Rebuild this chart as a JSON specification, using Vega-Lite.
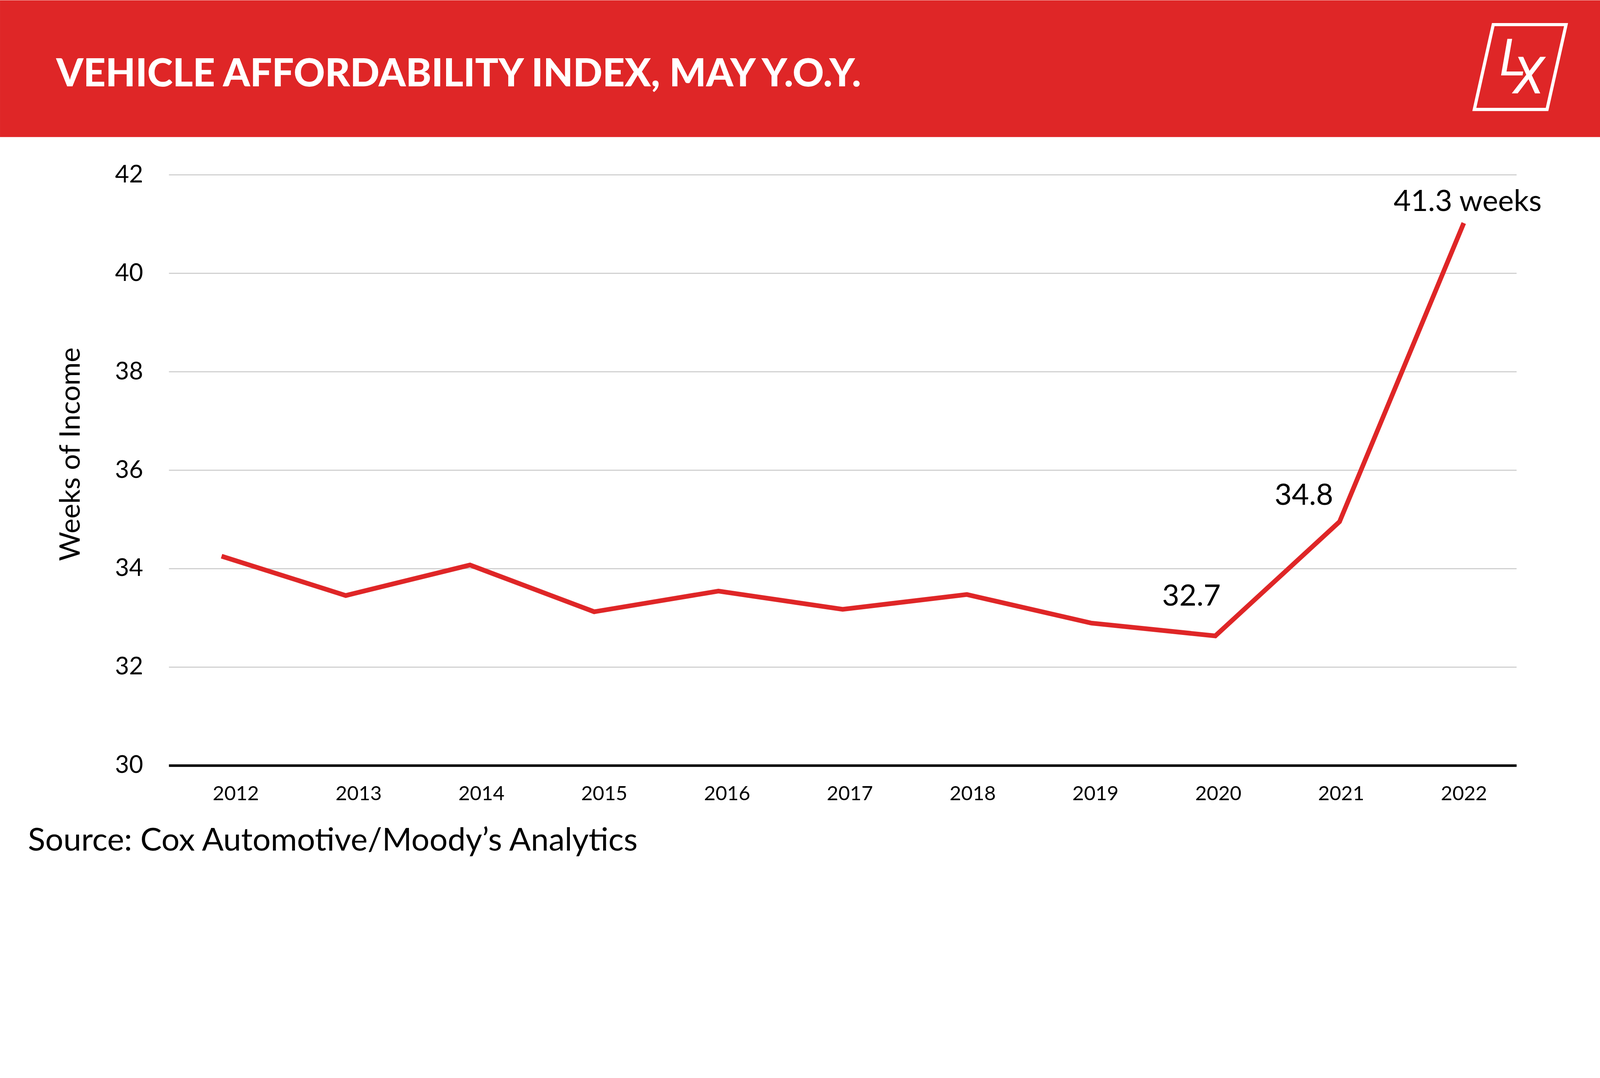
{
  "$schema": "https://vega.github.io/schema/vega-lite/v6.json",
  "background": "#ffffff",
  "autosize": {"type": "fit", "contains": "padding"},
  "padding": 0,
  "width": 4098,
  "height": 2261,
  "config": {"view": {"stroke": null}, "font": "Lato"},
  "data": {
    "values": [
      {"year": 2012, "value": 34.25, "label": ""},
      {"year": 2013, "value": 33.45, "label": ""},
      {"year": 2014, "value": 34.07, "label": ""},
      {"year": 2015, "value": 33.12, "label": ""},
      {"year": 2016, "value": 33.54, "label": ""},
      {"year": 2017, "value": 33.17, "label": ""},
      {"year": 2018, "value": 33.47, "label": ""},
      {"year": 2019, "value": 32.89, "label": ""},
      {"year": 2020, "value": 32.63, "label": "32.7"},
      {"year": 2021, "value": 34.95, "label": "34.8"},
      {"year": 2022, "value": 41.02, "label": "41.3 weeks"}
    ]
  },
  "layer": [
    {
      "data": {"values": [{}]},
      "mark": {"type": "point", "shape": "M -16.666 -9.19 L 16.666 -9.19 L 16.666 -6.343 L -16.666 -6.343 Z", "size": 60460, "filled": true, "color": "#df2627", "fill": "#df2627", "strokeWidth": 0, "opacity": 1},
      "encoding": {}
    },
    {
      "data": {"values": [{}]},
      "mark": {"type": "point", "shape": "M 14.427 -8.683 L 15.943 -8.683 L 15.547 -6.917 L 14.033 -6.917 Z", "size": 60460, "filled": false, "color": "#ffffff", "stroke": "#ffffff", "strokeWidth": 8.2, "opacity": 1, "strokeJoin": "miter"},
      "encoding": {}
    },
    {
      "data": {"values": [{}]},
      "mark": {"type": "text", "text": "VEHICLE AFFORDABILITY INDEX, MAY Y.O.Y.", "font": "Lato", "fontWeight": 900, "fontSize": 99, "color": "#ffffff", "align": "left", "baseline": "alphabetic", "dx": -1905, "dy": -910},
      "encoding": {}
    },
    {
      "data": {"values": [{}]},
      "mark": {"type": "text", "text": "L", "font": "Roboto", "fontStyle": "italic", "fontSize": 131, "color": "#ffffff", "align": "left", "baseline": "alphabetic", "dx": 1790, "dy": -938},
      "encoding": {}
    },
    {
      "data": {"values": [{}]},
      "mark": {"type": "text", "text": "X", "font": "Roboto", "fontStyle": "italic", "fontSize": 131, "color": "#ffffff", "align": "left", "baseline": "alphabetic", "dx": 1824, "dy": -892},
      "encoding": {}
    },
    {
      "mark": {"type": "point", "opacity": 0},
      "encoding": {
        "y": {
          "field": "value",
          "type": "quantitative",
          "scale": {"domain": [27.5988, 45.5531], "nice": false, "zero": false},
          "axis": {
            "orient": "right",
            "offset": -3666,
            "values": [30, 32, 34, 36, 38, 40, 42],
            "ticks": true,
            "tickSize": 3450,
            "tickColor": {"condition": {"test": "datum.value === 30", "value": "#000000"}, "value": "#c9c9c9"},
            "tickWidth": {"condition": {"test": "datum.value === 30", "value": 6.5}, "value": 2.5},
            "tickCap": "butt",
            "labels": false,
            "domain": false,
            "grid": false,
            "title": null,
            "zindex": 0
          }
        }
      }
    },
    {
      "mark": {"type": "point", "opacity": 0},
      "encoding": {
        "y": {
          "field": "value",
          "type": "quantitative",
          "scale": {"domain": [27.5988, 45.5531], "nice": false, "zero": false},
          "axis": {
            "orient": "left",
            "offset": -432,
            "values": [30, 32, 34, 36, 38, 40, 42],
            "ticks": false,
            "tickSize": 0,
            "domain": false,
            "grid": false,
            "labelFont": "Lato",
            "labelFontSize": 62,
            "labelColor": "#000000",
            "labelPadding": 66,
            "title": "Weeks of Income",
            "titleX": -229,
            "titleY": 1162,
            "titleAngle": 270,
            "titleAlign": "center",
            "titleBaseline": "alphabetic",
            "titleFont": "Lato",
            "titleFontSize": 72,
            "titleFontWeight": "normal",
            "titleColor": "#000000"
          }
        }
      }
    },
    {
      "mark": {"type": "point", "opacity": 0},
      "encoding": {
        "x": {
          "field": "year",
          "type": "quantitative",
          "scale": {"domain": [2010.0813, 2023.1157], "nice": false, "zero": false},
          "axis": {
            "orient": "bottom",
            "offset": -305,
            "values": [2012, 2013, 2014, 2015, 2016, 2017, 2018, 2019, 2020, 2021, 2022],
            "format": "d",
            "grid": false,
            "ticks": false,
            "tickSize": 0,
            "domain": false,
            "labelFont": "Lato",
            "labelFontSize": 51,
            "labelColor": "#000000",
            "labelPadding": 51,
            "labelFlush": false,
            "labelOverlap": false,
            "labelBound": false,
            "title": "Source: Cox Automotive/Moody’s Analytics",
            "titleX": 71,
            "titleY": 220,
            "titleAlign": "left",
            "titleBaseline": "alphabetic",
            "titleFont": "Lato",
            "titleFontSize": 82,
            "titleFontWeight": "normal",
            "titleColor": "#000000"
          }
        },
        "y": {"field": "value", "type": "quantitative", "scale": {"domain": [27.5988, 45.5531], "nice": false, "zero": false}, "axis": null}
      }
    },
    {
      "mark": {"type": "line", "color": "#df2627", "strokeWidth": 12, "strokeJoin": "miter"},
      "encoding": {
        "x": {"field": "year", "type": "quantitative", "scale": {"domain": [2010.2165, 2023.1031], "nice": false, "zero": false}, "axis": null},
        "y": {"field": "value", "type": "quantitative", "scale": {"domain": [27.5988, 45.5531], "nice": false, "zero": false}, "axis": null}
      }
    },
    {
      "transform": [{"filter": "datum.year == 2020"}],
      "mark": {"type": "text", "font": "Lato", "fontSize": 76, "color": "#000000", "align": "right", "baseline": "alphabetic", "dx": 14, "dy": -77},
      "encoding": {
        "x": {"field": "year", "type": "quantitative", "scale": {"domain": [2010.2165, 2023.1031], "nice": false, "zero": false}, "axis": null},
        "y": {"field": "value", "type": "quantitative", "scale": {"domain": [27.5988, 45.5531], "nice": false, "zero": false}, "axis": null},
        "text": {"field": "label"}
      }
    },
    {
      "transform": [{"filter": "datum.year == 2021"}],
      "mark": {"type": "text", "font": "Lato", "fontSize": 76, "color": "#000000", "align": "right", "baseline": "alphabetic", "dx": -16, "dy": -43},
      "encoding": {
        "x": {"field": "year", "type": "quantitative", "scale": {"domain": [2010.2165, 2023.1031], "nice": false, "zero": false}, "axis": null},
        "y": {"field": "value", "type": "quantitative", "scale": {"domain": [27.5988, 45.5531], "nice": false, "zero": false}, "axis": null},
        "text": {"field": "label"}
      }
    },
    {
      "transform": [{"filter": "datum.year == 2022"}],
      "mark": {"type": "text", "font": "Lato", "fontSize": 76, "color": "#000000", "align": "center", "baseline": "alphabetic", "dx": 10, "dy": -31},
      "encoding": {
        "x": {"field": "year", "type": "quantitative", "scale": {"domain": [2010.2165, 2023.1031], "nice": false, "zero": false}, "axis": null},
        "y": {"field": "value", "type": "quantitative", "scale": {"domain": [27.5988, 45.5531], "nice": false, "zero": false}, "axis": null},
        "text": {"field": "label"}
      }
    }
  ],
  "resolve": {"scale": {"x": "independent"}, "axis": {"x": "independent", "y": "independent"}}
}
